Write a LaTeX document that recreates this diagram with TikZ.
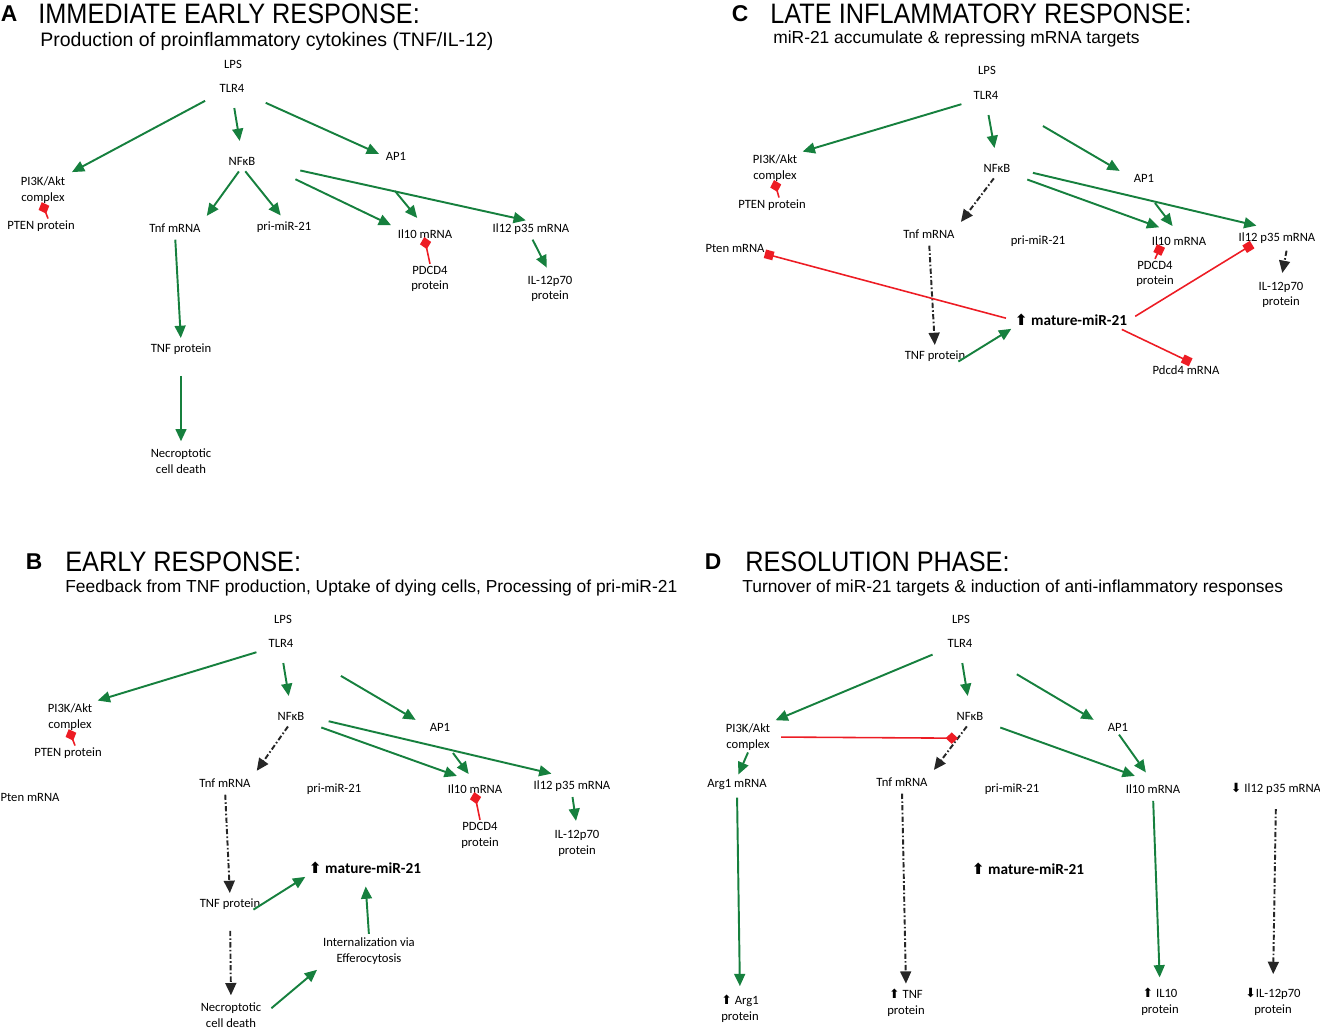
\documentclass[tikz,border=0pt]{standalone}
\usepackage{fontspec}
\setmainfont{Carlito}
\newfontfamily\headfont[FakeStretch=0.9]{Liberation Sans}
\newfontfamily\subfont{Liberation Sans}
\newfontfamily\arrfont{DejaVu Sans}
\usetikzlibrary{arrows.meta}
\definecolor{actgreen}{RGB}{22,128,62}
\definecolor{inhred}{RGB}{237,28,36}
\newcommand{\upr}{{\arrfont\char"2B06}}
\newcommand{\dnr}{{\arrfont\char"2B07}}
\tikzset{
	lbl/.style={font=\fontsize{7.2}{9}\selectfont, align=center, inner sep=1pt},
	mir/.style={font=\fontsize{8.7}{10}\selectfont\bfseries, inner sep=1pt},
	tag/.style={font=\subfont\fontsize{13}{15}\selectfont\bfseries, inner sep=0pt},
	head/.style={font=\headfont\fontsize{16}{18}\selectfont, anchor=west, inner sep=0pt},
	subhead/.style={font=\subfont\fontsize{9.9}{12}\selectfont, anchor=west, inner sep=0pt},
	act/.style={draw=actgreen, line width=1.1pt, -{Triangle[length=7pt,width=6.2pt]}},
	dd/.style={draw=black!85, line width=1.1pt, dash pattern=on 3pt off 1.3pt on 0.9pt off 1.3pt, -{Triangle[length=7pt,width=6.2pt]}},
	inh/.style={draw=inhred, line width=0.9pt, -{Diamond[length=7pt,width=6.5pt]}},
	rep/.style={draw=inhred, line width=0.9pt, -{Square[length=5pt,width=5pt]}},
}

\begin{document}
\begin{tikzpicture}[x=0.02cm, y=-0.02cm]
		\useasboundingbox (0,0) rectangle (1320,1032);
		
		%%%%% A %%%%%
		\node[tag] (tagA) at (9,14) {A};
		\node[head] (headA) at (38,14) {IMMEDIATE EARLY RESPONSE:};
		\node[subhead, font=\subfont\fontsize{11.1}{13}\selectfont] (subA) at (40,41) {Production of proinflammatory cytokines (TNF/IL-12)};
		
		\node[lbl] (lpsA) at (233,64) {LPS};
		\node[lbl] (tlrA) at (232,88) {TLR4};
		\node[lbl] (pikA) at (43,190) {PI3K/Akt\\complex};
		\node[lbl] (nfA) at (242,161) {NFκB};
		\node[lbl] (apA) at (396,156) {AP1};
		\node[lbl] (ptenA) at (41,226) {PTEN protein};
		\node[lbl] (tnfmA) at (175,228) {Tnf mRNA};
		\node[lbl] (priA) at (284,227) {pri-miR-21};
		\node[lbl] (ilmA) at (425,234) {Il10 mRNA};
		\node[lbl] (iltA) at (531,229) {Il12 p35 mRNA};
		\node[lbl] (pdcdA) at (430,279) {PDCD4\\protein};
		\node[lbl] (ilpA) at (550,289) {IL-12p70\\protein};
		\node[lbl] (tnfpA) at (181,349) {TNF protein};
		\node[lbl] (necA) at (181,461) {Necroptotic\\cell death};
		\coordinate (apA-in) at (395,191);
		
		\draw[act, shorten <=8pt, shorten >=3pt] (tlrA.south west) -- (pikA.north east);
		\draw[act, shorten <=8pt, shorten >=8pt] (tlrA.south) -- (nfA.north);
		\draw[act, shorten <=12pt, shorten >=3pt] (tlrA.south east) -- (apA.west);
		\draw[act, shorten <=3pt, shorten >=4pt] (nfA.south) -- (tnfmA.north east);
		\draw[act, shorten <=3pt, shorten >=3pt] (nfA.south) -- (priA.north);
		\draw[act, shorten <=24pt, shorten >=3pt] (nfA.east) -- (ilmA.north west);
		\draw[act, shorten >=7pt] (apA-in) -- (ilmA.north);
		\draw[act, shorten <=25pt, shorten >=3pt] (nfA.east) -- (iltA.north);
		\draw[act, shorten <=2pt, shorten >=4pt] (iltA.south) -- (ilpA.north);
		\draw[act, shorten <=3pt, shorten >=2pt] (tnfmA.south) -- (tnfpA.north);
		\draw[act, shorten <=11pt, shorten >=3pt] (tnfpA.south) -- (necA.north);
		\draw[inh, shorten >=-2pt] ([xshift=4pt]ptenA.north) -- (pikA.south);
		\draw[inh, shorten >=-2pt] (pdcdA.north) -- (ilmA.south);
		
		%%%%% B %%%%%
		\node[tag] (tagB) at (34,562) {B};
		\node[head] (headB) at (65,562) {EARLY RESPONSE:};
		\node[subhead] (subB) at (65,588) {Feedback from TNF production, Uptake of dying cells, Processing of pri-miR-21};
		
		\node[lbl] (lpsB) at (283,619) {LPS};
		\node[lbl] (tlrB) at (281,643) {TLR4};
		\node[lbl] (pikB) at (70,717) {PI3K/Akt\\complex};
		\node[lbl] (nfB) at (291,716) {NFκB};
		\node[lbl] (apB) at (440,727) {AP1};
		\node[lbl] (ptenB) at (68,753) {PTEN protein};
		\node[lbl] (ptmB) at (30,797) {Pten mRNA};
		\node[lbl] (tnfmB) at (225,783) {Tnf mRNA};
		\node[lbl] (priB) at (334,789) {pri-miR-21};
		\node[lbl] (ilmB) at (475,789) {Il10 mRNA};
		\node[lbl] (iltB) at (572,786) {Il12 p35 mRNA};
		\node[lbl] (pdcdB) at (480,835) {PDCD4\\protein};
		\node[lbl] (ilpB) at (577,843) {IL-12p70\\protein};
		\node[mir] (matB) at (365,868) {\upr\ mature-miR-21};
		\node[lbl] (tnfpB) at (230,904) {TNF protein};
		\node[lbl] (necB) at (231,1015) {Necroptotic\\cell death};
		\node[lbl] (effB) at (369,951) {Internalization via\\Efferocytosis};
		\coordinate (apB-in) at (453,753);
		
		\draw[act, shorten <=6pt, shorten >=2pt] (tlrB.south west) -- (pikB.north east);
		\draw[act, shorten <=8pt, shorten >=8pt] (tlrB.south) -- (nfB.north);
		\draw[act, shorten <=30pt, shorten >=8pt] (tlrB.south east) -- (apB.west);
		\draw[dd, shorten <=3pt, shorten >=4pt] (nfB.south) -- (tnfmB.north east);
		\draw[act, shorten <=9pt, shorten >=11pt] (nfB.south east) -- (ilmB.north);
		\draw[act, shorten >=6pt] (apB-in) -- (ilmB.north);
		\draw[act, shorten <=13pt, shorten >=12pt] (nfB.east) -- (iltB.north);
		\draw[act, shorten <=2pt, shorten >=4pt] (iltB.south) -- (ilpB.north);
		\draw[inh, shorten >=-2pt] ([xshift=4pt]ptenB.north) -- (pikB.south);
		\draw[inh, shorten >=-2pt] (pdcdB.north) -- (ilmB.south);
		\draw[dd, shorten <=3pt, shorten >=2pt] (tnfmB.south) -- (tnfpB.north);
		\draw[act, shorten <=-6pt, shorten >=1pt] (tnfpB.east) -- (matB.south west);
		\draw[dd, shorten <=11pt, shorten >=3pt] (tnfpB.south) -- (necB.north);
		\draw[act, shorten <=6pt, shorten >=3pt] (necB.east) -- (effB.south west);
		\draw[act, shorten <=1pt, shorten >=6pt] (effB.north) -- (matB.south);
		
		%%%%% C %%%%%
		\node[tag] (tagC) at (740,14) {C};
		\node[head] (headC) at (770,14) {LATE INFLAMMATORY RESPONSE:};
		\node[subhead] (subC) at (773,39) {miR-21 accumulate \& repressing mRNA targets};
		
		\node[lbl] (lpsC) at (987,70) {LPS};
		\node[lbl] (tlrC) at (986,95) {TLR4};
		\node[lbl] (pikC) at (775,168) {PI3K/Akt\\complex};
		\node[lbl] (nfC) at (997,168) {NFκB};
		\node[lbl] (apC) at (1144,178) {AP1};
		\node[lbl] (ptenC) at (772,205) {PTEN protein};
		\node[lbl] (ptmC) at (735,248) {Pten mRNA};
		\node[lbl] (tnfmC) at (929,234) {Tnf mRNA};
		\node[lbl] (priC) at (1038,241) {pri-miR-21};
		\node[lbl] (ilmC) at (1179,241) {Il10 mRNA};
		\node[lbl] (iltC) at (1277,238) {Il12 p35 mRNA};
		\node[lbl] (pdcdC) at (1155,274) {PDCD4\\protein};
		\node[lbl] (ilpC) at (1281,295) {IL-12p70\\protein};
		\node[mir] (matC) at (1071,320) {\upr\ mature-miR-21};
		\node[lbl] (tnfpC) at (935,356) {TNF protein};
		\node[lbl] (pdcmC) at (1186,370) {Pdcd4 mRNA};
		\coordinate (apC-in) at (1155,203);
		
		\draw[act, shorten <=6pt, shorten >=2pt] (tlrC.south west) -- (pikC.north east);
		\draw[act, shorten <=8pt, shorten >=8pt] (tlrC.south) -- (nfC.north);
		\draw[act, shorten <=28pt, shorten >=8pt] (tlrC.south east) -- (apC.west);
		\draw[dd, shorten <=3pt, shorten >=4pt] (nfC.south) -- (tnfmC.north east);
		\draw[act, shorten <=9pt, shorten >=12pt] (nfC.south east) -- (ilmC.north);
		\draw[act, shorten >=6pt] (apC-in) -- (ilmC.north);
		\draw[act, shorten <=12pt, shorten >=12pt] (nfC.east) -- (iltC.north);
		\draw[dd, shorten <=3pt, shorten >=4pt] ([xshift=6pt]iltC.south) -- (ilpC.north);
		\draw[inh, shorten >=-2pt] ([xshift=4pt]ptenC.north) -- (pikC.south);
		\draw[rep, shorten >=-1pt] (pdcdC.north) -- ([xshift=6pt]ilmC.south west);
		\draw[dd, shorten <=3pt, shorten >=2pt] (tnfmC.south) -- (tnfpC.north);
		\draw[act, shorten <=-6pt, shorten >=1pt] (tnfpC.east) -- (matC.south west);
		\draw[rep, shorten <=4pt, shorten >=-1pt] (matC.west) -- (ptmC.south east);
		\draw[rep, shorten <=4pt, shorten >=-1pt] (matC.east) -- ([xshift=8pt]iltC.south west);
		\draw[rep, shorten <=2pt, shorten >=1.5pt] ([xshift=-6pt]matC.south east) -- ([xshift=4pt]pdcmC.north);
		
		%%%%% D %%%%%
		\node[tag] (tagD) at (713,562) {D};
		\node[head] (headD) at (745,562) {RESOLUTION PHASE:};
		\node[subhead] (subD) at (742,588) {Turnover of miR-21 targets \& induction of anti-inflammatory responses};
		
		\node[lbl] (lpsD) at (961,619) {LPS};
		\node[lbl] (tlrD) at (960,643) {TLR4};
		\node[lbl] (pikD) at (748,737) {PI3K/Akt\\complex};
		\node[lbl] (nfD) at (970,716) {NFκB};
		\node[lbl] (apD) at (1118,727) {AP1};
		\node[lbl] (argmD) at (737,785) {Arg1 mRNA};
		\node[lbl] (tnfmD) at (902,782) {Tnf mRNA};
		\node[lbl] (priD) at (1012,789) {pri-miR-21};
		\node[lbl] (ilmD) at (1153,789) {Il10 mRNA};
		\node[lbl] (iltD) at (1276,789) {\dnr\ Il12 p35 mRNA};
		\node[mir] (matD) at (1028,869) {\upr\ mature-miR-21};
		\node[lbl] (argpD) at (740,1009) {\upr\ Arg1\\protein};
		\node[lbl] (tnfpD) at (906,1003) {\upr\ TNF\\protein};
		\node[lbl] (ilpD) at (1160,1002) {\upr\ IL10\\protein};
		\node[lbl] (ilp2D) at (1273,1002) {\dnr IL-12p70\\protein};
		
		\draw[act, shorten <=8pt, shorten >=2pt] (tlrD.south west) -- (pikD.north east);
		\draw[act, shorten <=8pt, shorten >=8pt] (tlrD.south) -- (nfD.north);
		\draw[act, shorten <=28pt, shorten >=8pt] (tlrD.south east) -- (apD.west);
		\draw[dd, shorten <=3pt, shorten >=4pt] (nfD.south) -- coordinate[pos=0.3] (nfD-tnf) (tnfmD.north east);
		\draw[act, shorten <=9pt, shorten >=11pt] (nfD.south east) -- (ilmD.north);
		\draw[act, shorten <=1pt, shorten >=7pt] (apD.south) -- (ilmD.north);
		\draw[act, shorten >=2pt] (pikD.south) -- (argmD.north);
		\draw[inh, shorten <=5pt] (pikD.east) -- (nfD-tnf);
		\draw[act, shorten <=3pt, shorten >=4pt] (argmD.south) -- (argpD.north);
		\draw[dd, shorten <=3pt, shorten >=2pt] (tnfmD.south) -- (tnfpD.north);
		\draw[act, shorten <=3pt, shorten >=5pt] (ilmD.south) -- (ilpD.north);
		\draw[dd, shorten <=7pt, shorten >=7pt] (iltD.south) -- (ilp2D.north);
		
	\end{tikzpicture}
\end{document}
